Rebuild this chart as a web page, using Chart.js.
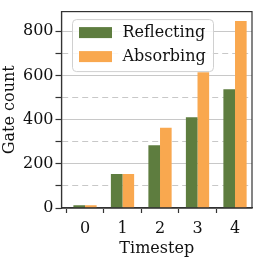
<!DOCTYPE html>
<html>
<head>
<meta charset="utf-8">
<script src="https://cdn.jsdelivr.net/npm/chart.js@4.4.1/dist/chart.umd.min.js"></script>
<style>
  html, body { margin: 0; padding: 0; background: #fff; }
  #chart { display: block; }
</style>
</head>
<body>
<canvas id="chart" width="258" height="258"></canvas>
<script>
// --- Data ---
const timesteps = [0, 1, 2, 3, 4];
const reflecting = [12, 154, 284, 411, 538];
const absorbing = [12, 154, 363, 614, 846];
const yTicks = [0, 100, 200, 300, 400, 500, 600, 700, 800];
const seriesLabels = ['Reflecting', 'Absorbing'];

const FONT = '"DejaVu Serif", "Liberation Serif", serif';
const GREEN = '#5e7d3f';
const ORANGE = '#f9a84f';
const GRID = '#c8c8c8';
const SPINE = '#333333';

const isMajor = v => v % 200 === 0;

// legend box drawn inside the plot, like matplotlib's upper-left legend
const boxLegend = {
    id: 'boxLegend',
    afterDatasetsDraw(chart) {
        const { ctx, chartArea: a } = chart;
        const x = a.left + 11, y = a.top + 8, w = 141, h = 52;
        ctx.save();
        ctx.beginPath();
        ctx.roundRect(x, y, w, h, 4);
        ctx.fillStyle = 'rgba(255,255,255,0.85)';
        ctx.fill();
        ctx.strokeStyle = '#d0d0d0';
        ctx.lineWidth = 1;
        ctx.stroke();
        chart.data.datasets.forEach((ds, i) => {
            const cy = y + 13 + i * 24;
            ctx.fillStyle = ds.backgroundColor;
            ctx.fillRect(x + 6.5, cy - 5.5, 33, 11);
            ctx.fillStyle = '#111';
            ctx.font = '16px ' + FONT;
            ctx.textBaseline = 'middle';
            ctx.textAlign = 'left';
            ctx.fillText(ds.label, x + 50, cy);
        });
        ctx.restore();
    }
};

// full box of spines
const frame = {
    id: 'frame',
    afterDatasetsDraw(chart) {
        const { ctx, chartArea: a } = chart;
        ctx.save();
        ctx.strokeStyle = SPINE;
        ctx.lineWidth = 1.2;
        ctx.strokeRect(a.left, a.top, a.right - a.left, a.bottom - a.top);
        ctx.restore();
    }
};

new Chart(document.getElementById('chart'), {
    type: 'bar',
    data: {
        labels: timesteps,
        datasets: [
            { label: seriesLabels[0], data: reflecting, backgroundColor: GREEN },
            { label: seriesLabels[1], data: absorbing, backgroundColor: ORANGE }
        ]
    },
    options: {
        responsive: false,
        animation: false,
        devicePixelRatio: 1,
        categoryPercentage: 0.62,
        barPercentage: 1.0,
        layout: { padding: { top: 3, right: 6, left: 0, bottom: 0 } },
        plugins: {
            legend: { display: false },
            tooltip: { enabled: false }
        },
        scales: {
            x: {
                type: 'linear',
                offset: false,
                min: -0.627,
                max: 4.453,
                afterBuildTicks: s => { s.ticks = timesteps.map(v => ({ value: v })); },
                afterFit: s => { s.height = 50; },
                grid: {
                    drawOnChartArea: false,
                    drawTicks: true,
                    tickLength: 5,
                    tickColor: SPINE,
                    tickWidth: 1.2
                },
                border: { color: SPINE, width: 1.2 },
                ticks: {
                    color: '#111',
                    padding: 6,
                    font: { family: FONT, size: 16 },
                    maxRotation: 0,
                    autoSkip: false
                },
                title: {
                    display: true,
                    text: 'Timestep',
                    color: '#111',
                    font: { family: FONT, size: 16 },
                    padding: { top: 0, bottom: 0 }
                }
            },
            y: {
                min: 0,
                max: 889,
                afterBuildTicks: s => { s.ticks = yTicks.map(v => ({ value: v })); },
                afterFit: s => { s.width = 61.5; },
                grid: {
                    color: GRID,
                    lineWidth: 1,
                    tickLength: 6,
                    tickColor: SPINE,
                    tickWidth: 1.2
                },
                border: {
                    color: SPINE,
                    width: 1.2,
                    dash: c => (c.tick && !isMajor(c.tick.value)) ? [6, 4] : []
                },
                ticks: {
                    color: '#111',
                    padding: 2,
                    font: { family: FONT, size: 16 },
                    autoSkip: false,
                    callback: v => isMajor(v) ? String(v) : ''
                },
                title: {
                    display: true,
                    text: 'Gate count',
                    color: '#111',
                    font: { family: FONT, size: 16 },
                    padding: { top: 0, bottom: 0 }
                }
            }
        }
    },
    plugins: [boxLegend, frame]
});
</script>
</body>
</html>
